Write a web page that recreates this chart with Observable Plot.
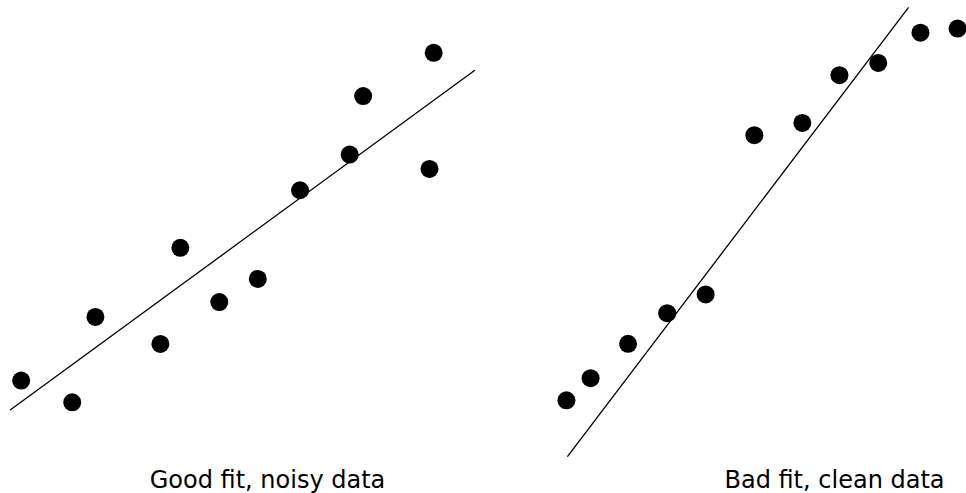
<!DOCTYPE html>
<html>
<head>
<meta charset="utf-8">
<script src="https://cdn.jsdelivr.net/npm/d3@7"></script>
<script src="https://cdn.jsdelivr.net/npm/@observablehq/plot@0.6"></script>
<style>
  html, body { margin: 0; padding: 0; background: #fff; }
  #row { display: flex; width: 966px; height: 493px; }
  #row svg { display: block; }
</style>
</head>
<body>
<div id="row"></div>
<script>
// Left panel: noisy data, good fit
const noisyX = [0.23, 1.33, 1.83, 3.23, 3.66, 4.50, 5.33, 6.24, 7.31, 7.60, 9.03, 9.12];
const noisyY = [0.63, 0.16, 2.00, 1.42, 3.49, 2.32, 2.82, 4.73, 5.50, 6.76, 5.19, 7.69];
const noisyFitX = [0, 10];
const noisyFitY = [0, 7.31];
const noisyCaption = "Good fit, noisy data";

// Right panel: clean data, bad fit
const cleanX = [-0.04, 0.67, 1.77, 2.92, 4.05, 5.48, 6.89, 7.98, 9.12, 10.36, 11.45];
const cleanY = [1.64, 2.29, 3.30, 4.20, 4.75, 9.43, 9.79, 11.19, 11.55, 12.44, 12.56];
const cleanFitX = [0, 10];
const cleanFitY = [0, 13.17];
const cleanCaption = "Bad fit, clean data";

function panel(xs, ys, fx, fy, caption, xDomain, xRange, yDomain, yRange, capDx) {
  const pts = xs.map((x, i) => ({x, y: ys[i]}));
  const fit = fx.map((x, i) => ({x, y: fy[i]}));
  return Plot.plot({
    width: 483,
    height: 493,
    margin: 0,
    x: {domain: xDomain, range: xRange, axis: null},
    y: {domain: yDomain, range: yRange, axis: null},
    style: {fontFamily: "DejaVu Sans", background: "white", overflow: "visible"},
    marks: [
      Plot.line(fit, {x: "x", y: "y", stroke: "black", strokeWidth: 1.3}),
      Plot.dot(pts, {x: "x", y: "y", r: 9, fill: "black", stroke: "none"}),
      Plot.text([caption], {frameAnchor: "bottom", lineAnchor: "bottom", dy: -6, dx: capDx,
        text: d => d, fontSize: 24, fill: "black", fontFamily: "DejaVu Sans"})
    ]
  });
}

const row = document.getElementById("row");
row.appendChild(panel(noisyX, noisyY, noisyFitX, noisyFitY, noisyCaption,
  [0, 10], [10, 474], [0, 7.31], [409.3, 70], 25.5));
row.appendChild(panel(cleanX, cleanY, cleanFitX, cleanFitY, cleanCaption,
  [0, 10], [84.3, 424.7], [0, 13.17], [455.7, 7.3], 109.5));
</script>
</body>
</html>
